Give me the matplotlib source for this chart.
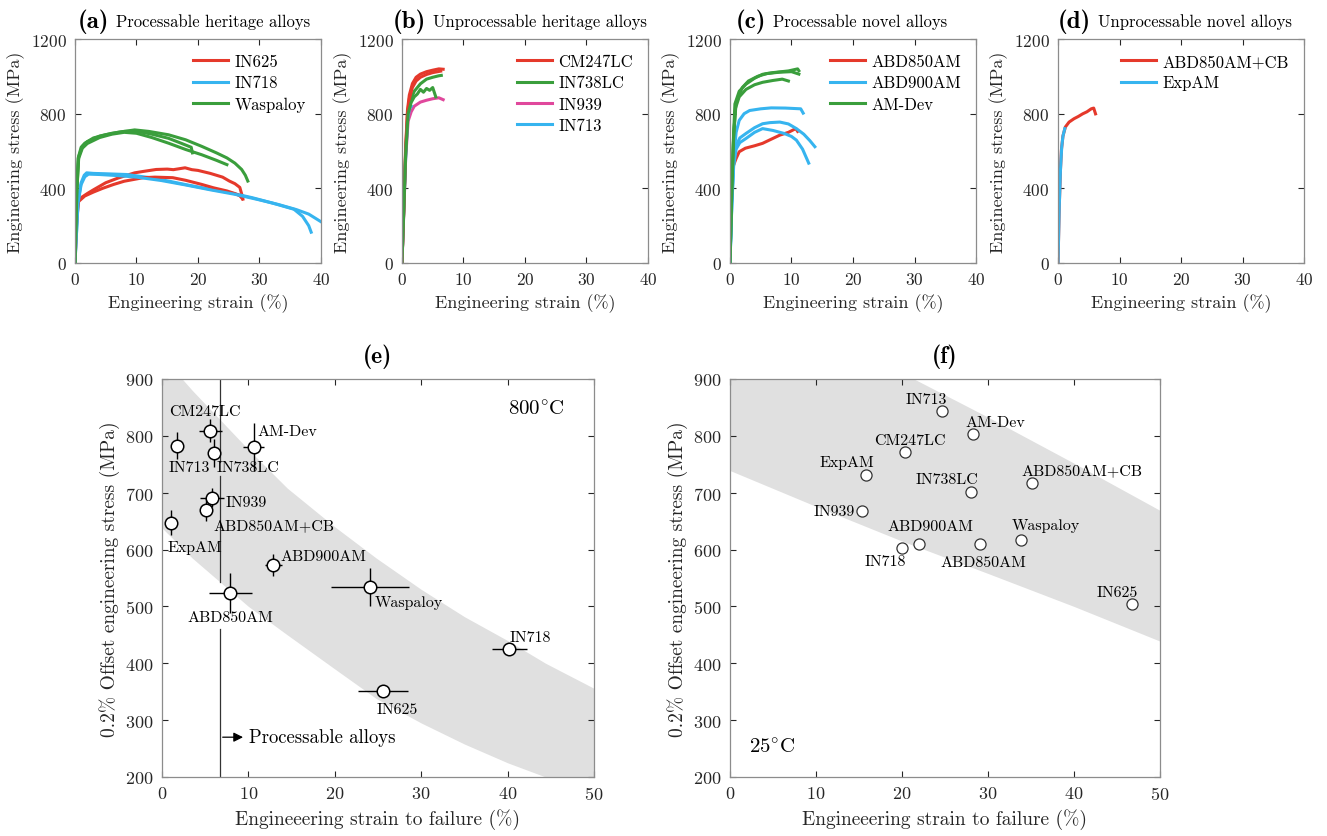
import matplotlib
matplotlib.use("Agg")
import matplotlib.pyplot as plt

plt.rcParams['font.family'] = ['cmr10', 'DejaVu Serif']
plt.rcParams['mathtext.fontset'] = 'cm'
plt.rcParams['axes.formatter.use_mathtext'] = True
plt.rcParams['axes.unicode_minus'] = False

RED = '#e5392b'
BLUE = '#36b4ef'
GREEN = '#3a9e3c'
PINK = '#e0489c'

# ---- tensile curves at 800C (strain %, stress MPa) ----
# (a) processable heritage alloys
in625_1_x = [0, 0.3, 0.5, 1, 2, 3, 5, 7, 9.7, 11, 13.2, 15, 16, 17.9, 19, 20, 22, 24, 25.1, 26, 26.8, 27.1, 27.3]
in625_1_y = [0, 250, 330, 350, 372, 392, 430, 455, 483, 490, 501, 503, 500, 510, 500, 496, 480, 460, 439, 425, 405, 370, 342]
in625_2_x = [0, 0.3, 0.6, 1.6, 3, 4.5, 6.3, 8, 11.1, 13, 15.9, 18, 20.6, 22.5, 24.7, 26, 26.8, 27.2]
in625_2_y = [0, 240, 330, 359, 380, 400, 421, 438, 457, 460, 457, 443, 421, 403, 386, 372, 360, 345]
in718_1_x = [0, 0.5, 1, 1.5, 1.9, 3, 5, 8.4, 12, 15.2, 18, 22, 25, 28.8, 32, 35.6, 37, 38, 38.4]
in718_1_y = [0, 330, 430, 470, 483, 480, 478, 474, 458, 439, 420, 395, 378, 350, 322, 288, 250, 200, 165]
in718_2_x = [0, 0.5, 1, 1.6, 2.2, 4, 7, 10, 14, 18, 22, 26, 30, 33, 36, 38, 40]
in718_2_y = [0, 320, 420, 462, 476, 474, 468, 460, 442, 418, 392, 368, 338, 314, 286, 262, 221]
wasp_1_x = [0, 0.3, 0.5, 1, 1.6, 3, 5, 7, 9.7, 12, 15.2, 18, 20.6, 23, 24.7, 26, 27.1, 27.7, 28.1]
wasp_1_y = [0, 400, 560, 620, 642, 670, 687, 700, 713, 705, 687, 660, 625, 590, 563, 535, 501, 470, 439]
wasp_2_x = [0, 0.3, 0.6, 1.2, 2, 4, 6, 8, 10, 12.5, 15.2, 18, 20.6, 23, 24.7]
wasp_2_y = [0, 380, 560, 615, 640, 672, 690, 700, 695, 672, 642, 608, 580, 550, 527]
wasp_3_x = [0, 0.3, 0.6, 1.2, 2, 4, 6, 8, 10, 12.5, 15.2, 17, 18.9, 19.1]
wasp_3_y = [0, 390, 570, 625, 650, 680, 695, 705, 706, 690, 668, 645, 620, 590]

# (b) unprocessable heritage alloys
cm247_1_x = [0, 0.3, 0.6, 0.9, 1.2, 1.7, 2.3, 3, 4, 5, 6, 6.7]
cm247_1_y = [0, 300, 620, 820, 900, 961, 995, 1012, 1025, 1033, 1040, 1038]
cm247_2_x = [0, 0.3, 0.6, 0.9, 1.2, 1.7, 2.3, 3, 4, 5, 6.3]
cm247_2_y = [0, 290, 600, 800, 880, 940, 975, 995, 1010, 1020, 1028]
in738_1_x = [0, 0.3, 0.6, 1, 1.5, 2, 3, 4, 5, 6, 6.4]
in738_1_y = [0, 290, 590, 820, 880, 920, 960, 985, 995, 1003, 1005]
in738_2_x = [0, 0.3, 0.6, 1, 1.5, 2, 2.5, 3, 3.5, 4, 4.5, 5, 5.3, 5.5]
in738_2_y = [0, 280, 580, 800, 860, 890, 905, 930, 915, 935, 925, 940, 910, 890]
in939_x = [0, 0.3, 0.6, 1, 1.5, 2, 3, 4, 5, 6, 6.7]
in939_y = [0, 270, 560, 760, 810, 840, 862, 872, 880, 885, 875]
in713_x = [0, 0.3, 0.6, 0.9, 1.2, 1.5]
in713_y = [0, 300, 560, 760, 825, 840]

# (c) processable novel alloys
abd850_x = [0, 0.2, 0.4, 0.5, 1, 1.5, 2.5, 4, 5.3, 6.5, 8.1, 9.5, 10.7, 11]
abd850_y = [0, 300, 450, 517, 560, 596, 615, 628, 641, 660, 685, 700, 720, 705]
abd900_1_x = [0, 0.3, 0.6, 1, 1.5, 2.3, 3.2, 5, 6.7, 9, 11.5, 11.9]
abd900_1_y = [0, 330, 560, 700, 764, 800, 817, 826, 831, 830, 826, 803]
abd900_2_x = [0, 0.3, 0.6, 1, 1.6, 2.6, 4, 5.3, 6.5, 8.1, 9.5, 10.8, 12, 13, 13.8]
abd900_2_y = [0, 320, 540, 630, 670, 694, 725, 746, 752, 755, 745, 720, 690, 655, 623]
abd900_3_x = [0, 0.3, 0.6, 1, 1.6, 2.6, 4, 5.3, 7, 8.8, 10, 10.8, 11.8, 12.8]
abd900_3_y = [0, 310, 520, 610, 645, 667, 700, 720, 710, 694, 678, 658, 610, 535]
amdev_1_x = [0, 0.3, 0.6, 0.8, 1.5, 2.6, 4, 5.3, 7, 9.5, 11, 11.2]
amdev_1_y = [0, 400, 700, 852, 920, 958, 990, 1011, 1020, 1029, 1040, 1030]
amdev_2_x = [0, 0.3, 0.6, 0.9, 1.5, 2.6, 4, 5.3, 7, 8.5, 9.5]
amdev_2_y = [0, 390, 680, 830, 890, 930, 955, 968, 978, 985, 975]
amdev_3_x = [0, 0.3, 0.6, 1, 2, 3, 4.5, 6, 8, 10, 11.2]
amdev_3_y = [0, 400, 690, 860, 940, 975, 1000, 1015, 1022, 1025, 1012]

# (d) unprocessable novel alloys
abdcb_x = [0, 0.2, 0.4, 0.55, 0.8, 1.2, 1.8, 2.6, 3.3, 4, 4.7, 5.4, 5.8, 6.1]
abdcb_y = [0, 300, 500, 605, 680, 729, 755, 773, 785, 799, 810, 826, 830, 799]
expam_x = [0, 0.2, 0.4, 0.6, 0.8, 1.1]
expam_y = [0, 300, 500, 620, 680, 720]

# ---- (e) 800C yield vs strain to failure ----
e_names = ['CM247LC', 'IN713', 'IN738LC', 'AM-Dev', 'IN939', 'ABD850AM+CB', 'ExpAM',
           'ABD900AM', 'ABD850AM', 'Waspaloy', 'IN718', 'IN625']
e_strain = [5.6, 1.7, 6.0, 10.6, 5.8, 5.1, 1.0, 12.9, 7.9, 24.1, 40.2, 25.6]
e_stress = [809, 783, 770, 781, 691, 670, 647, 573, 524, 534, 425, 351]
e_strain_err = [1.35, 0.3, 0.3, 1.2, 1.35, 0.5, 0.3, 1.0, 2.5, 4.5, 2.0, 2.9]
e_stress_err = [20, 23, 25, 42, 17, 20, 22, 20, 35, 34, 0, 0]
e_band_x = [0, 3.5, 10, 14.5, 20, 24.8, 30, 35, 40, 44.4, 50]
e_band_lo = [638, 585, 500, 450, 390, 338, 295, 258, 225, 200, 170]
e_band_hi = [940, 880, 776, 708, 640, 585, 530, 482, 440, 400, 356]

# ---- (f) 25C ----
f_names = ['IN713', 'AM-Dev', 'CM247LC', 'ExpAM', 'IN738LC', 'ABD850AM+CB', 'IN939',
           'ABD900AM', 'IN718', 'ABD850AM', 'Waspaloy', 'IN625']
f_strain = [24.7, 28.3, 20.4, 15.8, 28.0, 35.1, 15.4, 22.0, 20.0, 29.1, 33.8, 46.8]
f_stress = [844, 804, 772, 731, 701, 717, 667, 610, 603, 609, 616, 504]
f_band_x = [0, 10, 20, 21.4, 30, 40, 50]
f_band_lo = [739, 676, 615, 607, 558, 500, 439]
f_band_hi = [1080, 970, 915, 900, 833, 752, 669]


def style(ax, fs):
    ax.tick_params(direction='in', top=True, right=True, length=4, width=0.8,
                   labelsize=fs, colors='#262626', pad=6)
    for s in ax.spines.values():
        s.set_color('#8c8c8c')
        s.set_linewidth(0.9)


def title2(ax, tag, text, x):
    t = ax.text(x, 1.08, tag, transform=ax.transAxes, fontsize=18,
                family=['cmb10', 'DejaVu Serif'], va='center', ha='left')
    ax.annotate(text, xy=(1, 0.5), xycoords=t, xytext=(5, 0), textcoords='offset points',
                fontsize=12, va='center', ha='left')


fig = plt.figure(figsize=(13.27, 8.37), dpi=100)

top = [fig.add_axes([l, 0.6846, 0.1854, 0.2676]) for l in (0.0565, 0.3029, 0.5501, 0.7973)]
for ax in top:
    ax.set_xlim(0, 40)
    ax.set_ylim(0, 1200)
    ax.set_xticks([0, 10, 20, 30, 40])
    ax.set_yticks([0, 400, 800, 1200])
    ax.set_xlabel('Engineering strain (%)', fontsize=13, color='#262626')
    ax.set_ylabel('Engineering stress (MPa)', fontsize=13, color='#262626')
    style(ax, 12.5)

lw = 2.2
a, b, c, d = top
a.plot(in625_1_x, in625_1_y, color=RED, lw=lw, label='IN625')
a.plot(in718_1_x, in718_1_y, color=BLUE, lw=lw, label='IN718')
a.plot(wasp_1_x, wasp_1_y, color=GREEN, lw=lw, label='Waspaloy')
a.plot(in625_2_x, in625_2_y, color=RED, lw=lw)
a.plot(in718_2_x, in718_2_y, color=BLUE, lw=lw)
a.plot(wasp_2_x, wasp_2_y, color=GREEN, lw=lw)
a.plot(wasp_3_x, wasp_3_y, color=GREEN, lw=lw)

b.plot(cm247_1_x, cm247_1_y, color=RED, lw=lw, label='CM247LC')
b.plot(in738_1_x, in738_1_y, color=GREEN, lw=lw, label='IN738LC')
b.plot(in939_x, in939_y, color=PINK, lw=lw, label='IN939')
b.plot(in713_x, in713_y, color=BLUE, lw=lw, label='IN713')
b.plot(cm247_2_x, cm247_2_y, color=RED, lw=lw)
b.plot(in738_2_x, in738_2_y, color=GREEN, lw=lw)

c.plot(abd850_x, abd850_y, color=RED, lw=lw, label='ABD850AM')
c.plot(abd900_1_x, abd900_1_y, color=BLUE, lw=lw, label='ABD900AM')
c.plot(amdev_1_x, amdev_1_y, color=GREEN, lw=lw, label='AM-Dev')
c.plot(abd900_2_x, abd900_2_y, color=BLUE, lw=lw)
c.plot(abd900_3_x, abd900_3_y, color=BLUE, lw=lw)
c.plot(amdev_2_x, amdev_2_y, color=GREEN, lw=lw)
c.plot(amdev_3_x, amdev_3_y, color=GREEN, lw=lw)

d.plot(abdcb_x, abdcb_y, color=RED, lw=lw, label='ABD850AM+CB')
d.plot(expam_x, expam_y, color=BLUE, lw=lw, label='ExpAM')

for ax in top:
    ax.legend(loc='upper right', frameon=False, fontsize=12, handlelength=2.1,
              handletextpad=0.4, labelspacing=0.35, borderaxespad=0.5)

title2(a, '(a)', 'Processable heritage alloys', 0.01)
title2(b, '(b)', 'Unprocessable heritage alloys', -0.037)
title2(c, '(c)', 'Processable novel alloys', 0.024)
title2(d, '(d)', 'Unprocessable novel alloys', 0.0)

# bottom panels
e = fig.add_axes([0.1221, 0.0705, 0.3255, 0.4755])
f = fig.add_axes([0.5501, 0.0705, 0.3240, 0.4755])
for ax, tag in ((e, '(e)'), (f, '(f)')):
    ax.set_xlim(0, 50)
    ax.set_ylim(200, 900)
    ax.set_xticks(range(0, 51, 10))
    ax.set_yticks(range(200, 901, 100))
    ax.set_xlabel('Engineeering strain to failure (%)', fontsize=14, color='#262626')
    ax.set_ylabel('0.2% Offset engineering stress (MPa)', fontsize=14, color='#262626')
    ax.set_title(tag, fontsize=17, family=['cmb10', 'DejaVu Serif'], pad=12)
    style(ax, 13)

e.fill_between(e_band_x, e_band_lo, e_band_hi, color='#e0e0e0', lw=0, zorder=0)
f.fill_between(f_band_x, f_band_lo, f_band_hi, color='#e0e0e0', lw=0, zorder=0)

# vertical "processable" boundary, broken around the labels
vline_x = 6.7
vline_segs = [(754, 900), (543, 729), (200, 460)]
for lo, hi in vline_segs:
    e.plot([vline_x, vline_x], [lo, hi], color='#333333', lw=0.9, zorder=1)
e.annotate('', xy=(9.7, 270), xytext=(vline_x, 270),
           arrowprops=dict(arrowstyle='-|>', color='black', lw=0.9, mutation_scale=14))
e.text(10.1, 270, 'Processable alloys', fontsize=13.5, va='center', ha='left')

e.errorbar(e_strain, e_stress, xerr=e_strain_err, yerr=e_stress_err, fmt='o',
           ms=9, mfc='white', mec='black', mew=1.1, ecolor='black', elinewidth=1.0,
           capsize=0, zorder=3)
f.plot(f_strain, f_stress, 'o', ms=8, mfc='white', mec='#333333', mew=0.9, zorder=3)

e_lab = {
    'CM247LC': (5.0, 844, 'center'), 'IN713': (3.1, 745, 'center'),
    'IN738LC': (9.9, 745, 'center'), 'AM-Dev': (11.1, 809, 'left'),
    'IN939': (7.4, 684, 'left'), 'ABD850AM+CB': (5.9, 642, 'left'),
    'ExpAM': (0.6, 605, 'left'), 'ABD900AM': (13.7, 589, 'left'),
    'ABD850AM': (7.9, 481, 'center'), 'Waspaloy': (24.6, 508, 'left'),
    'IN718': (42.6, 446, 'center'), 'IN625': (27.2, 320, 'center'),
}
for name in e_names:
    x, y, ha = e_lab[name]
    e.text(x, y, name, fontsize=11.5, ha=ha, va='center')

f_lab = {
    'IN713': (22.8, 865, 'center'), 'AM-Dev': (30.9, 824, 'center'),
    'CM247LC': (20.9, 793, 'center'), 'ExpAM': (13.6, 754, 'center'),
    'IN738LC': (25.2, 724, 'center'), 'ABD850AM+CB': (40.9, 740, 'center'),
    'IN939': (14.5, 667, 'right'), 'ABD900AM': (23.3, 641, 'center'),
    'IN718': (18.1, 579, 'center'), 'ABD850AM': (29.5, 578, 'center'),
    'Waspaloy': (36.7, 644, 'center'), 'IN625': (45.0, 525, 'center'),
}
for name in f_names:
    x, y, ha = f_lab[name]
    f.text(x, y, name, fontsize=11.5, ha=ha, va='center')

e.text(46.6, 847, r'800$^{\circ}$C', fontsize=15, ha='right', va='center')
f.text(2.2, 253, r'25$^{\circ}$C', fontsize=15, ha='left', va='center')

fig.savefig('out.png', dpi=100)
